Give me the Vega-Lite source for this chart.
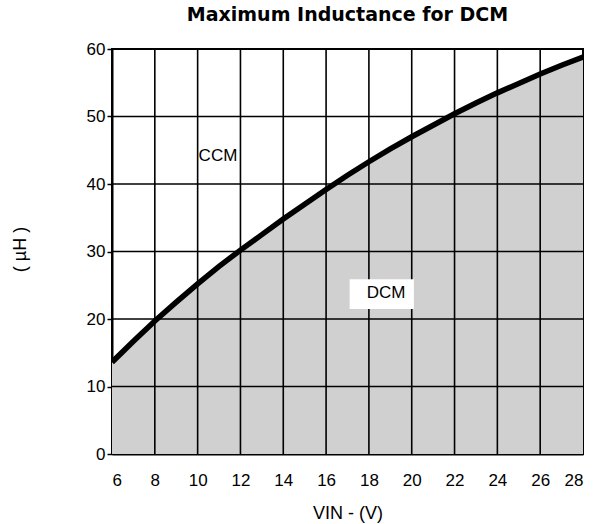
{
  "$schema": "https://vega.github.io/schema/vega-lite/v6.json",
  "width": 471,
  "height": 405,
  "autosize": "none",
  "padding": {"left": 112, "top": 49, "right": 12, "bottom": 70},
  "background": "white",
  "title": {
    "text": "Maximum Inductance for DCM",
    "font": "DejaVu Sans",
    "fontSize": 19,
    "fontWeight": "bold",
    "color": "black",
    "anchor": "middle",
    "offset": 15
  },
  "config": {
    "view": {"stroke": "black", "strokeWidth": 2},
    "axis": {
      "labelFont": "Liberation Sans",
      "labelFontSize": 17,
      "labelColor": "black",
      "titleFont": "Liberation Sans",
      "titleFontSize": 17,
      "titleFontWeight": "normal",
      "titleColor": "black",
      "domainColor": "black",
      "domainWidth": 2,
      "tickColor": "black",
      "grid": false
    }
  },
  "datasets": {
    "curve": [
      {"v": 6, "l": 13.6}, {"v": 7, "l": 16.7}, {"v": 8, "l": 19.7}, {"v": 9, "l": 22.5},
      {"v": 10, "l": 25.2}, {"v": 11, "l": 27.8}, {"v": 12, "l": 30.2}, {"v": 13, "l": 32.5},
      {"v": 14, "l": 34.8}, {"v": 15, "l": 37.0}, {"v": 16, "l": 39.2}, {"v": 17, "l": 41.3},
      {"v": 18, "l": 43.3}, {"v": 19, "l": 45.2}, {"v": 20, "l": 47.0}, {"v": 21, "l": 48.7},
      {"v": 22, "l": 50.4}, {"v": 23, "l": 52.0}, {"v": 24, "l": 53.5}, {"v": 25, "l": 54.9},
      {"v": 26, "l": 56.3}, {"v": 27, "l": 57.6}, {"v": 28, "l": 58.8}
    ],
    "gx": [{"v": 8}, {"v": 10}, {"v": 12}, {"v": 14}, {"v": 16}, {"v": 18}, {"v": 20}, {"v": 22}, {"v": 24}, {"v": 26}],
    "gy": [{"l": 10}, {"l": 20}, {"l": 30}, {"l": 40}, {"l": 50}],
    "box": [{"x1": 17.1, "x2": 20.1, "y1": 21.5, "y2": 25.9}],
    "labels": [{"v": 10.95, "l": 44.1, "t": "CCM"}, {"v": 18.8, "l": 23.9, "t": "DCM"}]
  },
  "layer": [
    {
      "data": {"name": "curve"},
      "mark": {"type": "area", "color": "#d0d0d0", "clip": true},
      "encoding": {
        "x": {
          "field": "v", "type": "quantitative",
          "scale": {"domain": [6, 28], "nice": false, "zero": false},
          "axis": {
            "values": [6, 8, 10, 12, 14, 16, 18, 20, 22, 24, 26, 28],
            "ticks": false,
            "labelPadding": 18,
            "title": "VIN - (V)",
            "titleFontSize": 18,
            "titlePadding": 16
          }
        },
        "y": {
          "field": "l", "type": "quantitative",
          "scale": {"domain": [0, 60], "nice": false},
          "axis": {
            "values": [0, 10, 20, 30, 40, 50, 60],
            "tickSize": 5,
            "tickWidth": 1.5,
            "labelPadding": 2,
            "title": "( µH )",
            "titleFontSize": 18,
            "titleX": -92,
            "titleY": 200,
            "titleAngle": -90,
            "titleAlign": "center",
            "titleBaseline": "middle"
          }
        }
      }
    },
    {
      "data": {"name": "gx"},
      "mark": {"type": "rule", "color": "black", "strokeWidth": 1.6},
      "encoding": {"x": {"field": "v", "type": "quantitative"}}
    },
    {
      "data": {"name": "gy"},
      "mark": {"type": "rule", "color": "black", "strokeWidth": 1.6},
      "encoding": {"y": {"field": "l", "type": "quantitative"}}
    },
    {
      "data": {"name": "curve"},
      "mark": {"type": "line", "color": "black", "strokeWidth": 5.5, "clip": true},
      "encoding": {
        "x": {"field": "v", "type": "quantitative"},
        "y": {"field": "l", "type": "quantitative"}
      }
    },
    {
      "data": {"name": "box"},
      "mark": {"type": "rect", "color": "white"},
      "encoding": {
        "x": {"field": "x1", "type": "quantitative"},
        "x2": {"field": "x2"},
        "y": {"field": "y1", "type": "quantitative"},
        "y2": {"field": "y2"}
      }
    },
    {
      "data": {"name": "labels"},
      "mark": {"type": "text", "font": "Liberation Sans", "fontSize": 17, "color": "black", "align": "center", "baseline": "middle"},
      "encoding": {
        "x": {"field": "v", "type": "quantitative"},
        "y": {"field": "l", "type": "quantitative"},
        "text": {"field": "t"}
      }
    }
  ]
}
